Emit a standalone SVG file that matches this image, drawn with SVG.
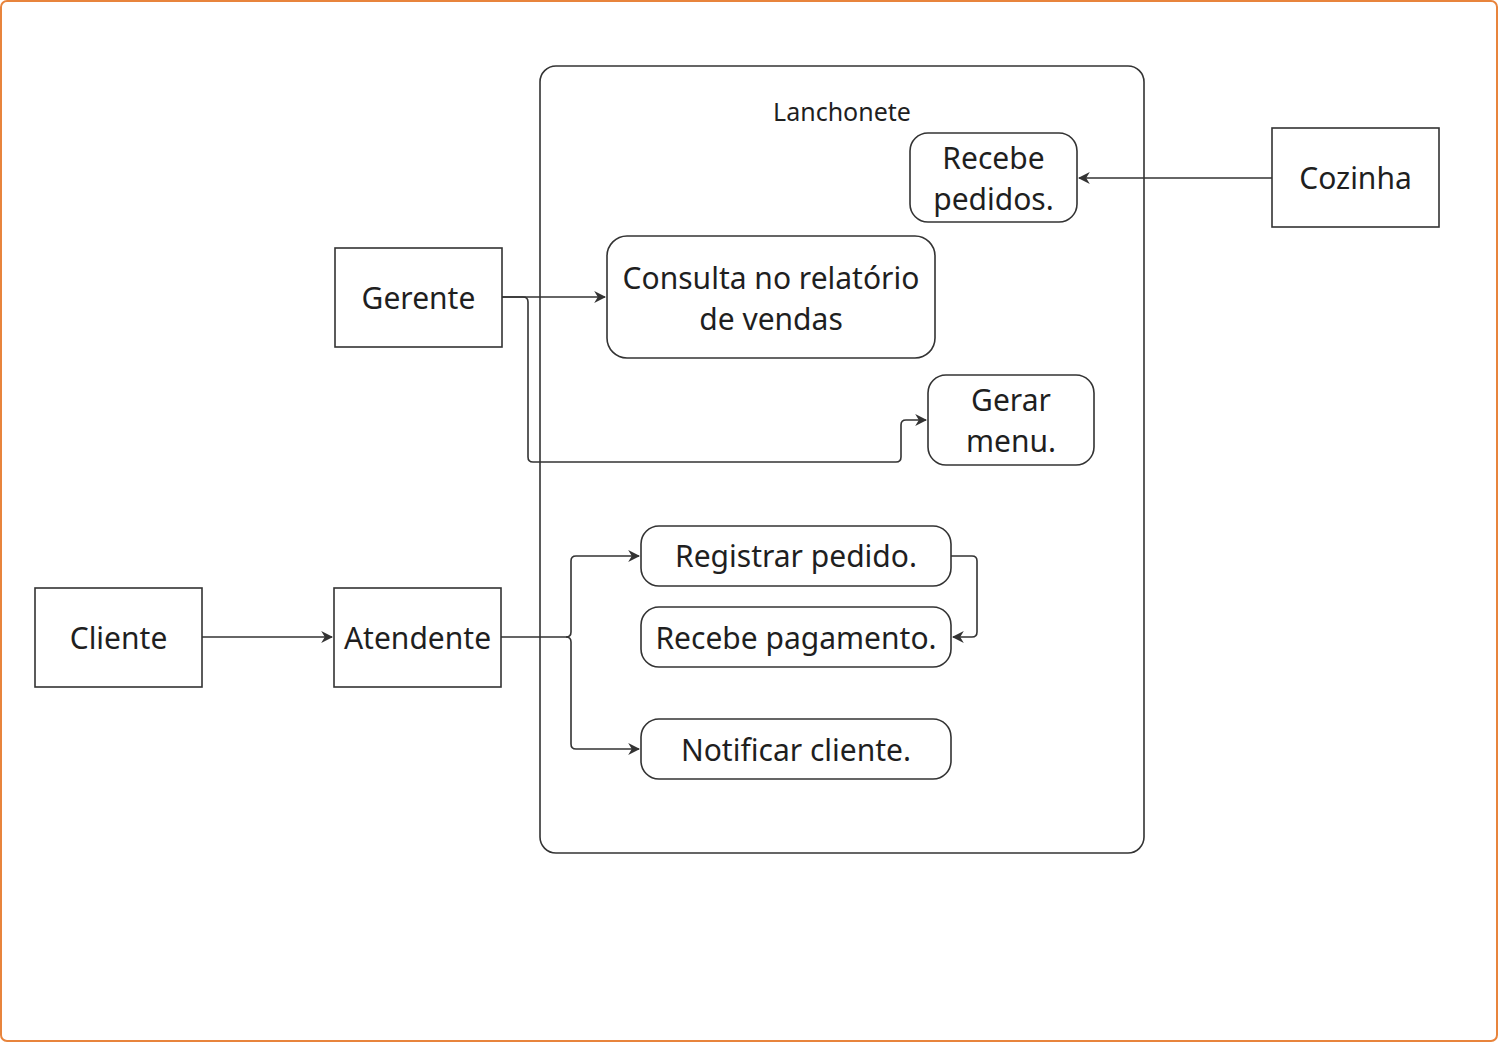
<svg xmlns="http://www.w3.org/2000/svg" width="1498" height="1042" viewBox="0 0 1498 1042">
<style>
.n{fill:#fff;stroke:#333;stroke-width:1.6}
.t{font-family:"Noto Sans","Open Sans",sans-serif;font-size:30px;fill:#1f1f1f;text-anchor:middle}
.c{fill:none;stroke:#333;stroke-width:1.6}
</style>
<defs>
<marker id="a" viewBox="0 0 10 10" refX="9" refY="5" markerWidth="12" markerHeight="12" markerUnits="userSpaceOnUse" orient="auto">
<path d="M0,0 L10,5 L0,10 L3,5 Z" fill="#333"/>
</marker>
</defs>
<rect x="1" y="1" width="1496" height="1040" rx="6" fill="#fff" stroke="#e8843c" stroke-width="2"/>
<g id="lanchonete">
<rect class="n" x="540" y="66" width="604" height="787" rx="16"/>
<text x="842" y="121" class="t" style="font-size:25px">Lanchonete</text>
</g>
<g id="connectors">
<path class="c" d="M1272,178 H1079" marker-end="url(#a)"/>
<path class="c" d="M502,297 H605" marker-end="url(#a)"/>
<path class="c" d="M502,297 H523 Q528,297 528,302 V457 Q528,462 533,462 H896 Q901,462 901,457 V425 Q901,420 906,420 H926" marker-end="url(#a)"/>
<path class="c" d="M202,637 H332" marker-end="url(#a)"/>
<path class="c" d="M501,637 H566 Q571,637 571,632 V561 Q571,556 576,556 H639" marker-end="url(#a)"/>
<path class="c" d="M566,637 Q571,637 571,642 V744 Q571,749 576,749 H639" marker-end="url(#a)"/>
<path class="c" d="M951,556 H972 Q977,556 977,561 V632 Q977,637 972,637 H953" marker-end="url(#a)"/>
</g>
<g id="recebe-pedidos">
<rect class="n" x="910" y="133" width="167" height="89" rx="18"/>
<text class="t" x="993.5" y="169">Recebe</text>
<text class="t" x="993.5" y="210">pedidos.</text>
</g>
<g id="cozinha">
<rect class="n" x="1272" y="128" width="167" height="99"/>
<text class="t" x="1355.5" y="189">Cozinha</text>
</g>
<g id="gerente">
<rect class="n" x="335" y="248" width="167" height="99"/>
<text class="t" x="418.5" y="309">Gerente</text>
</g>
<g id="consulta">
<rect class="n" x="607" y="236" width="328" height="122" rx="20"/>
<text class="t" x="771" y="289">Consulta no relatório</text>
<text class="t" x="771" y="330">de vendas</text>
</g>
<g id="gerar-menu">
<rect class="n" x="928" y="375" width="166" height="90" rx="18"/>
<text class="t" x="1011" y="411">Gerar</text>
<text class="t" x="1011" y="452">menu.</text>
</g>
<g id="cliente">
<rect class="n" x="35" y="588" width="167" height="99"/>
<text class="t" x="118.5" y="649">Cliente</text>
</g>
<g id="atendente">
<rect class="n" x="334" y="588" width="167" height="99"/>
<text class="t" x="417.5" y="649">Atendente</text>
</g>
<g id="registrar">
<rect class="n" x="641" y="526" width="310" height="60" rx="18"/>
<text class="t" x="796" y="567">Registrar pedido.</text>
</g>
<g id="pagamento">
<rect class="n" x="641" y="607" width="310" height="60" rx="18"/>
<text class="t" x="796" y="649">Recebe pagamento.</text>
</g>
<g id="notificar">
<rect class="n" x="641" y="719" width="310" height="60" rx="18"/>
<text class="t" x="796" y="761">Notificar cliente.</text>
</g>
</svg>
